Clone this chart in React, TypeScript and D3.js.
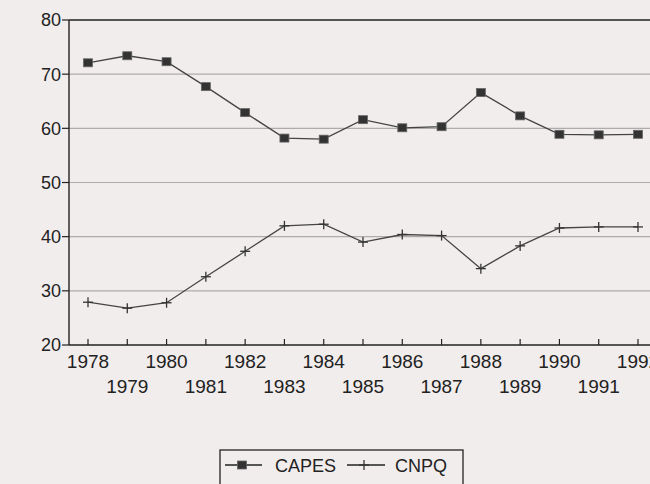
import React from "react";
import * as d3 from "d3";

const years = [1978, 1979, 1980, 1981, 1982, 1983, 1984, 1985, 1986, 1987, 1988, 1989, 1990, 1991, 1992];
const capes = [72.1, 73.4, 72.3, 67.7, 62.9, 58.2, 58.0, 61.6, 60.1, 60.3, 66.6, 62.3, 58.9, 58.8, 58.9];
const cnpq = [27.9, 26.8, 27.8, 32.6, 37.3, 42.0, 42.3, 39.0, 40.4, 40.2, 34.1, 38.3, 41.6, 41.8, 41.8];
const yTicks = [20, 30, 40, 50, 60, 70, 80];
const seriesNames = ["CAPES", "CNPQ"];

const W = 650;
const H = 484;
const left = 69;
const top = 20;
const bottom = 345;

export default function App() {
  const x = d3.scaleLinear().domain([1978, 1992]).range([88, 638]);
  const y = d3.scaleLinear().domain([20, 80]).range([bottom, top]);
  const line = d3
    .line<number>()
    .x((_, i) => x(years[i]))
    .y((d) => y(d))
    .curve(d3.curveLinear);
  const font = "'Liberation Sans', Arial, Helvetica, sans-serif";
  const ink = "#222";
  const lineCol = "#444";

  const square = (cx: number, cy: number, k: string) => (
    <rect key={k} x={cx - 4.5} y={cy - 4} width={9} height={8} fill="#333" stroke="#666" strokeWidth={0.8} />
  );
  const plus = (cx: number, cy: number, k: string) => (
    <g key={k} stroke="#333" strokeWidth={1.3}>
      <line x1={cx - 5} x2={cx + 5} y1={cy} y2={cy} />
      <line x1={cx} x2={cx} y1={cy - 5} y2={cy + 5} />
    </g>
  );

  return (
    <svg width={W} height={H} style={{ position: "absolute", left: 0, top: 0, background: "#f2eded" }} fontFamily={font}>
      <rect x={0} y={0} width={W} height={H} fill="#f2eded" />
      {yTicks
        .filter((t) => t > 20 && t < 80)
        .map((t) => (
          <line key={"g" + t} x1={left} x2={W} y1={y(t)} y2={y(t)} stroke="#b0abab" strokeWidth={1.2} />
        ))}
      <line x1={left} x2={W} y1={top} y2={top} stroke={ink} strokeWidth={1.4} />
      <line x1={left} x2={left} y1={top} y2={bottom} stroke={ink} strokeWidth={1.4} />
      <line x1={left} x2={W} y1={bottom} y2={bottom} stroke={ink} strokeWidth={1.4} />
      {yTicks.map((t) => (
        <g key={"y" + t}>
          <line x1={left - 7} x2={left} y1={y(t)} y2={y(t)} stroke={ink} strokeWidth={1.2} />
          <text x={left - 8} y={y(t)} dy="0.36em" textAnchor="end" fontSize={18} fill={ink}>
            {t}
          </text>
        </g>
      ))}
      {years.map((yr, i) => (
        <g key={"x" + yr}>
          <line x1={x(yr)} x2={x(yr)} y1={bottom} y2={bottom - 6} stroke={ink} strokeWidth={1.2} />
          <text x={x(yr)} y={i % 2 === 0 ? 368 : 393} textAnchor="middle" fontSize={19} fill={ink}>
            {yr}
          </text>
        </g>
      ))}
      <path d={line(capes) || ""} fill="none" stroke={lineCol} strokeWidth={1.3} />
      <path d={line(cnpq) || ""} fill="none" stroke={lineCol} strokeWidth={1.3} />
      {capes.map((v, i) => square(x(years[i]), y(v), "c" + i))}
      {cnpq.map((v, i) => plus(x(years[i]), y(v), "n" + i))}
      <rect x={220} y={450} width={243} height={45} fill="none" stroke={ink} strokeWidth={1.3} />
      <line x1={225} x2={262} y1={465} y2={465} stroke={ink} strokeWidth={1.3} />
      {square(242, 465, "lc")}
      <text x={275} y={472} fontSize={18} fill={ink}>
        {seriesNames[0]}
      </text>
      <line x1={347} x2={385} y1={465} y2={465} stroke={ink} strokeWidth={1.3} />
      {plus(364, 465, "ln")}
      <text x={395} y={472} fontSize={18} fill={ink}>
        {seriesNames[1]}
      </text>
    </svg>
  );
}
